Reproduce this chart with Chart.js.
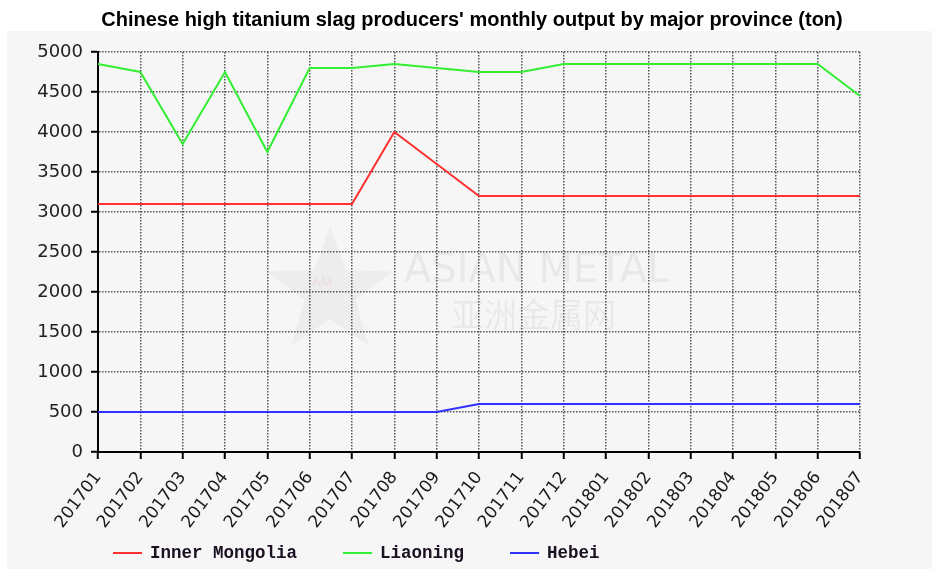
<!DOCTYPE html>
<html><head><meta charset="utf-8">
<script src="https://cdn.jsdelivr.net/npm/chart.js@4/dist/chart.umd.min.js"></script>
<style>html,body{margin:0;padding:0;background:#fff}canvas{display:block}</style>
</head><body>
<canvas id="c" width="932" height="569"></canvas>
<script>
const titleText = "Chinese high titanium slag producers' monthly output by major province (ton)";
const categories = ['201701','201702','201703','201704','201705','201706','201707','201708','201709','201710','201711','201712','201801','201802','201803','201804','201805','201806','201807'];
const innerMongolia = [3100,3100,3100,3100,3100,3100,3100,4000,3600,3200,3200,3200,3200,3200,3200,3200,3200,3200,3200];
const liaoning = [4850,4750,3850,4750,3750,4800,4800,4850,4800,4750,4750,4850,4850,4850,4850,4850,4850,4850,4450];
const hebei = [500,500,500,500,500,500,500,500,500,600,600,600,600,600,600,600,600,600,600];
const yTicks = [0,500,1000,1500,2000,2500,3000,3500,4000,4500,5000];
const seriesNames = ['Inner Mongolia','Liaoning','Hebei'];
const seriesColors = ['#ff3030','#33ee33','#3030ff'];

const bgPlugin = {
  id: 'bg',
  beforeDraw(chart) {
    const ctx = chart.ctx;
    ctx.save();
    ctx.fillStyle = '#ffffff';
    ctx.fillRect(0, 0, chart.width, chart.height);
    ctx.fillStyle = '#f6f6f6';
    ctx.fillRect(7, 31, chart.width - 7, chart.height - 31);
    ctx.restore();
  },
  beforeDatasetsDraw(chart) {
    const ctx = chart.ctx;
    ctx.save();
    // faint watermark
    const cx = 330, cy = 292, R = 66, r = 27;
    ctx.beginPath();
    for (let i = 0; i < 10; i++) {
      const a = -Math.PI / 2 + i * Math.PI / 5;
      const rr = i % 2 === 0 ? R : r;
      const px = cx + rr * Math.cos(a), py = cy + rr * Math.sin(a);
      if (i === 0) ctx.moveTo(px, py); else ctx.lineTo(px, py);
    }
    ctx.closePath();
    ctx.fillStyle = 'rgba(0,0,0,0.035)';
    ctx.fill();
    ctx.fillStyle = 'rgba(255,0,0,0.08)';
    ctx.font = '13px "Liberation Sans"';
    ctx.textAlign = 'center';
    ctx.textBaseline = 'middle';
    ctx.fillText('AM', 322, 282);
    ctx.fillStyle = 'rgba(0,0,0,0.055)';
    ctx.font = '40px "DejaVu Sans"';
    ctx.textAlign = 'left';
    ctx.fillText('ASIAN METAL', 404, 272);
    ctx.font = '33px "Noto Sans CJK SC"';
    ctx.fillText('亚洲金属网', 451, 314);
    ctx.restore();
  },
  afterDraw(chart) {
    const ctx = chart.ctx;
    ctx.save();
    ctx.font = 'bold 17.5px "Liberation Mono"';
    ctx.textBaseline = 'middle';
    ctx.textAlign = 'left';
    let x = 113;
    const y = 553;
    chart.data.datasets.forEach(ds => {
      ctx.strokeStyle = ds.borderColor;
      ctx.lineWidth = 2;
      ctx.beginPath();
      ctx.moveTo(x, y);
      ctx.lineTo(x + 29, y);
      ctx.stroke();
      x += 37;
      ctx.fillStyle = '#1a1020';
      ctx.fillText(ds.label, x, y + 1);
      x += ctx.measureText(ds.label).width + 46;
    });
    ctx.restore();
  }
};

Chart.defaults.font.family = '"DejaVu Sans"';
Chart.defaults.color = '#222';

new Chart(document.getElementById('c'), {
  type: 'line',
  data: {
    labels: categories,
    datasets: [
      { label: seriesNames[0], data: innerMongolia, borderColor: seriesColors[0], borderWidth: 2, pointRadius: 0, tension: 0, fill: false },
      { label: seriesNames[1], data: liaoning, borderColor: seriesColors[1], borderWidth: 2, pointRadius: 0, tension: 0, fill: false },
      { label: seriesNames[2], data: hebei, borderColor: seriesColors[2], borderWidth: 2, pointRadius: 0, tension: 0, fill: false }
    ]
  },
  options: {
    responsive: false,
    animation: false,
    devicePixelRatio: 1,
    layout: { padding: { left: 12, right: 0, top: 0, bottom: 0 } },
    plugins: {
      legend: { display: false },
      tooltip: { enabled: false },
      title: {
        display: true,
        text: titleText,
        color: '#000',
        font: { family: '"Liberation Sans"', size: 20, weight: 'bold', lineHeight: 1.2 },
        padding: { top: 8, bottom: 20 }
      }
    },
    scales: {
      x: {
        type: 'category',
        offset: false,
        afterFit(s) { s.height = 117; },
        grid: { display: true, drawOnChartArea: true, drawTicks: true, tickLength: 7, color: '#555', lineWidth: 1.5, tickColor: '#000', tickWidth: 2, tickBorderDash: [] },
        border: { display: true, color: '#000', width: 2, dash: [1.5, 1.5] },
        ticks: { autoSkip: false, minRotation: 53, maxRotation: 53, padding: 9, color: '#1a1a1a', font: { size: 17 } }
      },
      y: {
        min: 0, max: 5000,
        afterFit(s) { s.width = 86; },
        afterBuildTicks(s) { s.ticks = yTicks.map(v => ({ value: v })); },
        grid: { display: true, drawOnChartArea: true, drawTicks: true, tickLength: 7, color: '#555', lineWidth: 1.5, tickColor: '#000', tickWidth: 2, tickBorderDash: [] },
        border: { display: true, color: '#000', width: 2, dash: [1.5, 1.5] },
        ticks: { padding: 8, color: '#222', font: { size: 18 }, callback: v => String(v) }
      },
      y2: {
        position: 'right',
        min: 0, max: 1,
        afterFit(s) { s.width = 72; },
        grid: { display: false, drawOnChartArea: false },
        border: { display: false },
        ticks: { display: false }
      }
    }
  },
  plugins: [bgPlugin]
});
</script>
</body></html>
